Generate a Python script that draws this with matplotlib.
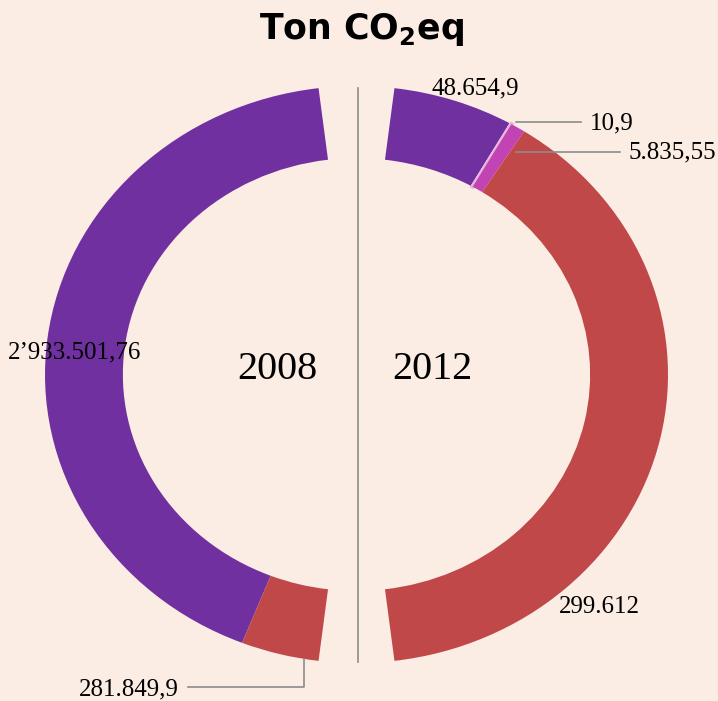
import matplotlib.pyplot as plt
from matplotlib.lines import Line2D

# data
years = ["2008", "2012"]
vals_2008 = [2933501.76, 281849.9]
vals_2012 = [48654.9, 10.9, 5835.55, 299612]
labels_2008 = ["2\u2019933.501,76", "281.849,9"]
labels_2012 = ["48.654,9", "10,9", "5.835,55", "299.612"]
colors_2008 = ["#7030a0", "#c04848"]
colors_2012 = ["#7030a0", "#e8b6dc", "#c244b4", "#c04848"]

W, H = 718, 701
bg = "#fbede4"
fig = plt.figure(figsize=(W / 100, H / 100), dpi=100, facecolor=bg)
ax = fig.add_axes([0, 0, 1, 1])
ax.set_facecolor(bg)

# slightly squashed ring: stretch data y so circles look elliptic
k = 311.5 / 288.5
R = 311.5
cx, cy = 356.5, (H - 374.5) * k
span = 166.0  # degrees per half
gap = (180 - span) / 2


def half(vals, colors, start, ccw):
    s = sum(vals)
    filler = s * (360.0 / span - 1)
    wedges, _ = ax.pie(vals + [filler], colors=colors + ["none"],
                       startangle=start, counterclock=ccw,
                       radius=R, center=(cx, cy),
                       wedgeprops=dict(width=R * 0.25, linewidth=0))
    wedges[-1].set_visible(False)
    return wedges


half(vals_2008, colors_2008, 90 + gap, True)
w12 = half(vals_2012, colors_2012, 90 - gap, False)
# the tiny 10,9 slice is only visible as a thin line
w12[1].set_edgecolor(colors_2012[1])
w12[1].set_linewidth(3)

ax.set_aspect("auto")
ax.set_xlim(0, W)
ax.set_ylim(0, H * k)
ax.axis("off")


def fx(px):
    return px / W


def fy(py):
    return 1 - py / H


serif = ["Liberation Serif", "DejaVu Serif"]
gray = "#8c8c8c"

fig.text(fx(362), fy(30), "Ton CO$\\mathregular{_2}$eq", ha="center", va="center",
         fontsize=25, fontweight="bold", family=["DejaVu Sans"])

fig.text(fx(277), fy(370), years[0], ha="center", va="center", fontsize=29, family=serif)
fig.text(fx(432), fy(370), years[1], ha="center", va="center", fontsize=29, family=serif)

fig.text(fx(8), fy(352), labels_2008[0], ha="left", va="center", fontsize=18, family=serif)
fig.text(fx(79), fy(689), labels_2008[1], ha="left", va="center", fontsize=18, family=serif)
fig.text(fx(432), fy(88), labels_2012[0], ha="left", va="center", fontsize=18, family=serif)
fig.text(fx(590), fy(123), labels_2012[1], ha="left", va="center", fontsize=18, family=serif)
fig.text(fx(628), fy(152), labels_2012[2], ha="left", va="center", fontsize=18, family=serif)
fig.text(fx(559), fy(607), labels_2012[3], ha="left", va="center", fontsize=18, family=serif)

# leader lines and divider
segs = [
    ([516, 581], [122, 122]),
    ([516, 620], [152, 152]),
    ([188, 304, 304], [687, 687, 659]),
    ([357.5, 357.5], [88, 662]),
]
for xs, ys in segs:
    fig.add_artist(Line2D([fx(x) for x in xs], [fy(y) for y in ys],
                          color=gray, lw=1.2, transform=fig.transFigure))

fig.savefig("out.png", dpi=100, facecolor=bg)
